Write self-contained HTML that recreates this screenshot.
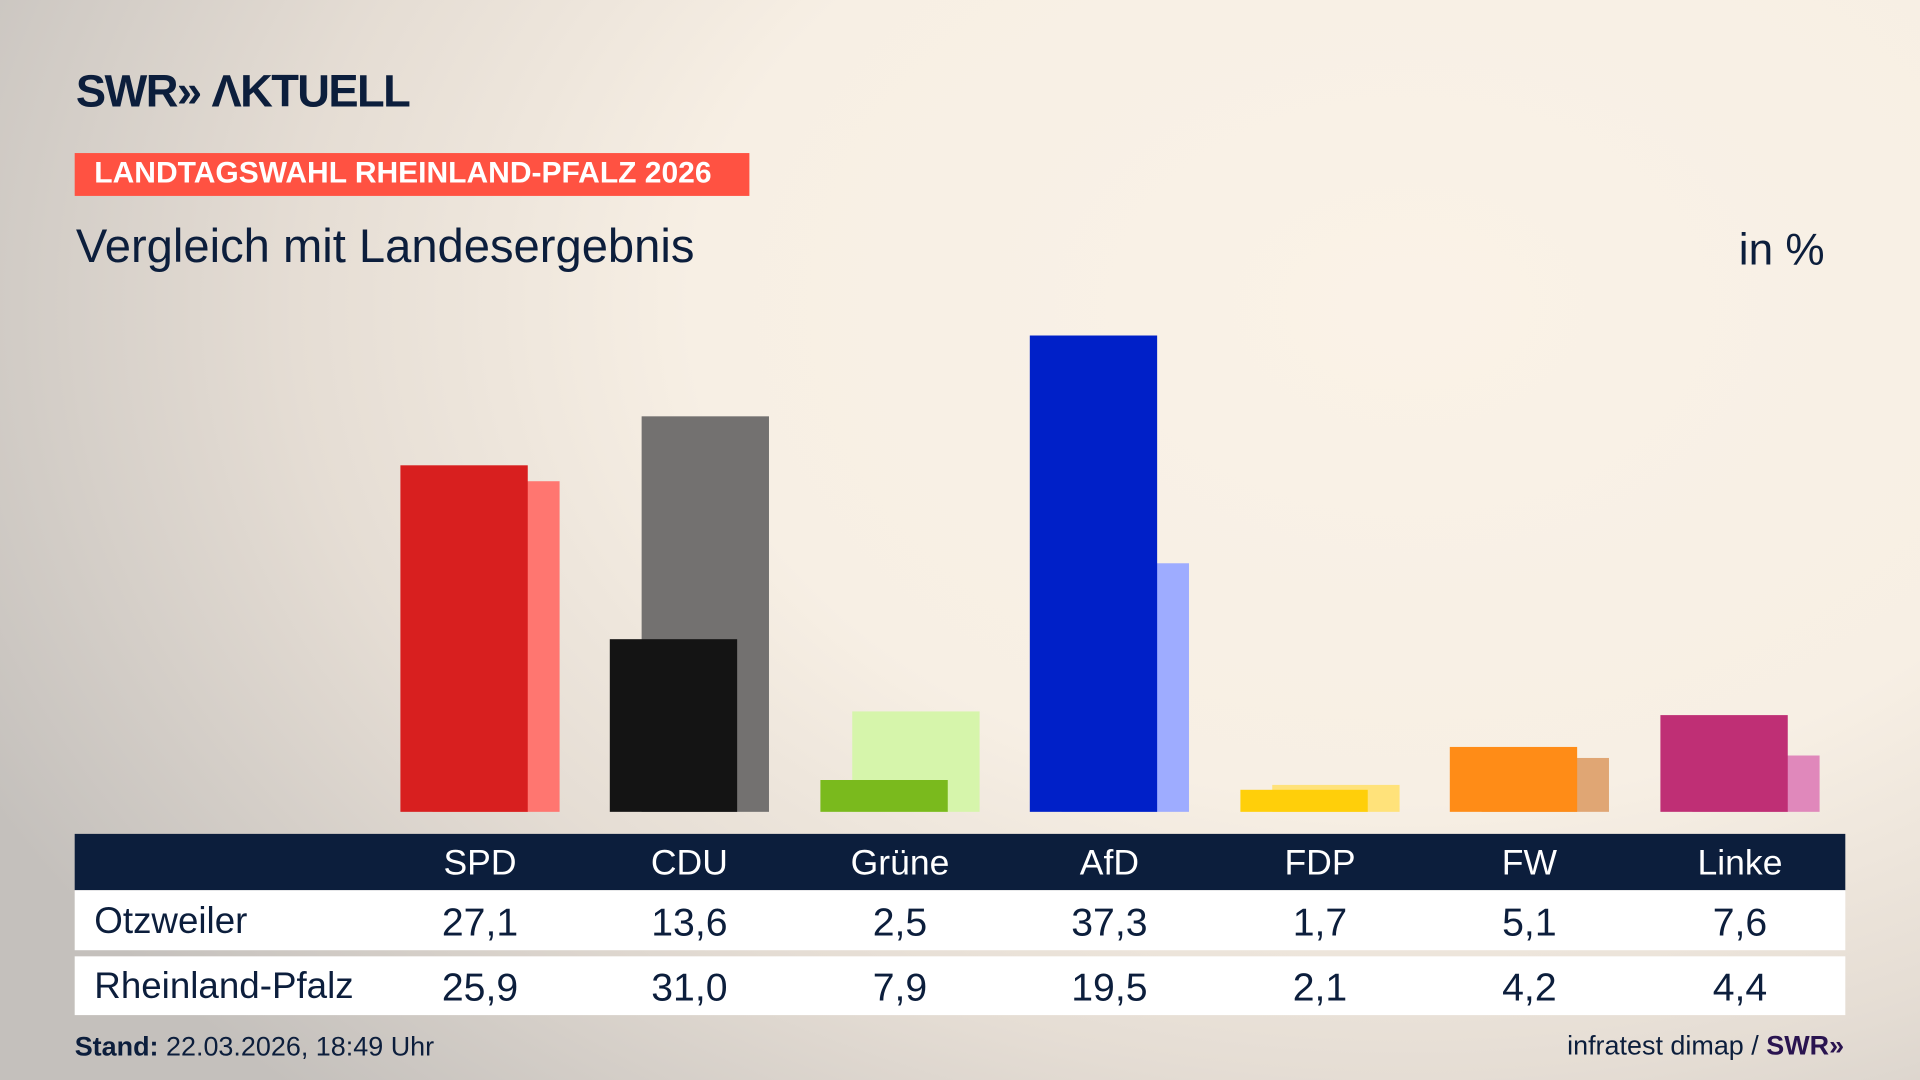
<!DOCTYPE html>
<html><head><meta charset="utf-8"><style>
html,body{margin:0;padding:0;}
body{width:1920px;height:1080px;overflow:hidden;background:#f9f1e6;}
#s{position:absolute;left:0;top:0;width:1568px;height:882px;transform:scale(1.22449);transform-origin:0 0;
background:radial-gradient(ellipse 1300px 900px at 1150px 250px,#faf2e7 0%,#f7efe4 45%,#e5ddd4 70%,#c4c0bc 100%);
font-family:"Liberation Sans Narrow","Liberation Sans",sans-serif;color:#0c1e3c;}
.a{position:absolute;}
.b{position:absolute;bottom:219px;}
.t{position:absolute;white-space:nowrap;}
.c{text-align:center;width:130px;}
</style></head><body><div id="s">
<div class="t" style="left:62px;top:54px;font-size:37px;font-weight:bold;letter-spacing:-1.3px;">SWR» ΛKTUELL</div>
<div class="a" style="left:61px;top:125px;width:551px;height:35px;background:#ff5242;"></div>
<div class="t" style="left:77px;top:128px;font-size:24.5px;font-weight:bold;color:#fff;">LANDTAGSWAHL RHEINLAND-PFALZ 2026</div>
<div class="t" style="left:62px;top:180px;font-size:38.5px;">Vergleich mit Landesergebnis</div>
<div class="t" style="left:1420px;top:183px;font-size:36px;">in %</div>

<div class="b" style="left:353px;width:104px;height:270px;background:#ff7670"></div>
<div class="b" style="left:327px;width:104px;height:283px;background:#d81f1f"></div>
<div class="b" style="left:524px;width:104px;height:323px;background:#737170"></div>
<div class="b" style="left:498px;width:104px;height:141px;background:#141414"></div>
<div class="b" style="left:696px;width:104px;height:82px;background:#d6f5ab"></div>
<div class="b" style="left:670px;width:104px;height:26px;background:#7aba1d"></div>
<div class="b" style="left:867px;width:104px;height:203px;background:#9eacff"></div>
<div class="b" style="left:841px;width:104px;height:389px;background:#0020c8"></div>
<div class="b" style="left:1039px;width:104px;height:22px;background:#ffe27a"></div>
<div class="b" style="left:1013px;width:104px;height:18px;background:#ffcf0a"></div>
<div class="b" style="left:1210px;width:104px;height:44px;background:#e0a674"></div>
<div class="b" style="left:1184px;width:104px;height:53px;background:#ff8c17"></div>
<div class="b" style="left:1382px;width:104px;height:46px;background:#e088bb"></div>
<div class="b" style="left:1356px;width:104px;height:79px;background:#bf2f75"></div>

<div class="a" style="left:61px;top:681px;width:1446px;height:46px;background:#0c1e3c"></div>
<div class="a" style="left:61px;top:727px;width:1446px;height:49px;background:#fff"></div>
<div class="a" style="left:61px;top:781px;width:1446px;height:48px;background:#fff"></div>

<div class="t c" style="left:327px;top:689px;font-size:29px;color:#fff">SPD</div>
<div class="t c" style="left:498px;top:689px;font-size:29px;color:#fff">CDU</div>
<div class="t c" style="left:670px;top:689px;font-size:29px;color:#fff">Grüne</div>
<div class="t c" style="left:841px;top:689px;font-size:29px;color:#fff">AfD</div>
<div class="t c" style="left:1013px;top:689px;font-size:29px;color:#fff">FDP</div>
<div class="t c" style="left:1184px;top:689px;font-size:29px;color:#fff">FW</div>
<div class="t c" style="left:1356px;top:689px;font-size:29px;color:#fff">Linke</div>

<div class="t" style="left:77px;top:736px;font-size:30px">Otzweiler</div>
<div class="t c" style="left:327px;top:735px;font-size:32px">27,1</div>
<div class="t c" style="left:498px;top:735px;font-size:32px">13,6</div>
<div class="t c" style="left:670px;top:735px;font-size:32px">2,5</div>
<div class="t c" style="left:841px;top:735px;font-size:32px">37,3</div>
<div class="t c" style="left:1013px;top:735px;font-size:32px">1,7</div>
<div class="t c" style="left:1184px;top:735px;font-size:32px">5,1</div>
<div class="t c" style="left:1356px;top:735px;font-size:32px">7,6</div>

<div class="t" style="left:77px;top:789px;font-size:30px">Rheinland-Pfalz</div>
<div class="t c" style="left:327px;top:788px;font-size:32px">25,9</div>
<div class="t c" style="left:498px;top:788px;font-size:32px">31,0</div>
<div class="t c" style="left:670px;top:788px;font-size:32px">7,9</div>
<div class="t c" style="left:841px;top:788px;font-size:32px">19,5</div>
<div class="t c" style="left:1013px;top:788px;font-size:32px">2,1</div>
<div class="t c" style="left:1184px;top:788px;font-size:32px">4,2</div>
<div class="t c" style="left:1356px;top:788px;font-size:32px">4,4</div>

<div class="t" style="left:61px;top:842px;font-size:22px"><b>Stand:</b> 22.03.2026, 18:49 Uhr</div>
<div class="t" style="right:62px;top:841px;font-size:22px">infratest dimap / <b style="color:#2a1450">SWR»</b></div>
</div></body></html>
